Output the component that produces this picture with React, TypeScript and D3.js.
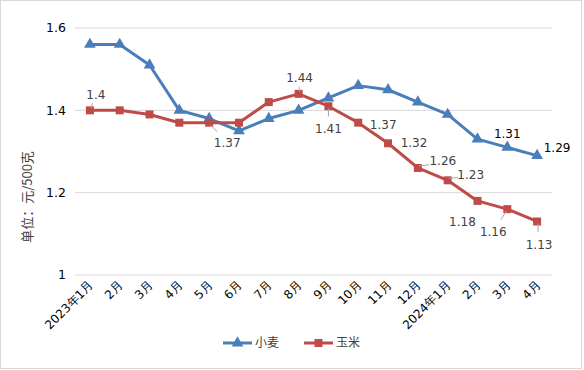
import * as d3 from 'd3';

const months = ['2023年1月', '2月', '3月', '4月', '5月', '6月', '7月', '8月', '9月', '10月', '11月', '12月', '2024年1月', '2月', '3月', '4月'];
const wheat = [1.56, 1.56, 1.51, 1.4, 1.38, 1.35, 1.38, 1.4, 1.43, 1.46, 1.45, 1.42, 1.39, 1.33, 1.31, 1.29];
const corn = [1.4, 1.4, 1.39, 1.37, 1.37, 1.37, 1.42, 1.44, 1.41, 1.37, 1.32, 1.26, 1.23, 1.18, 1.16, 1.13];
const yTicks = [1, 1.2, 1.4, 1.6];

// which points carry a value label, and where it sits (dx, dy from the point)
const cornLabels = [
  { i: 0, dx: 6, dy: -16, lead: true },
  { i: 4, dx: 18, dy: 20, lead: true },
  { i: 7, dx: 1, dy: -16, lead: true },
  { i: 8, dx: 0, dy: 23, lead: true },
  { i: 9, dx: 25, dy: 2, lead: false },
  { i: 10, dx: 26, dy: 0, lead: false },
  { i: 11, dx: 25, dy: -7, lead: true },
  { i: 12, dx: 23, dy: -6, lead: true },
  { i: 13, dx: -15, dy: 21, lead: false },
  { i: 14, dx: -14, dy: 23, lead: true },
  { i: 15, dx: 2, dy: 23, lead: true },
];
const wheatLabels = [
  { i: 14, dx: 0, dy: -14 },
  { i: 15, dx: 20, dy: -8 },
];

const W = 584;
const H = 370;
const blue = '#4a7ebb';
const red = '#be4b48';
const font = '"DejaVu Sans", sans-serif';
const cjk = '"Noto Sans CJK SC", sans-serif';

export default function App() {
  const x = d3.scaleBand<string>().domain(months.map((m, i) => i + '')).range([75, 552]);
  const y = d3.scaleLinear().domain([1, 1.6]).range([275, 28]);
  const cx = (i: number) => (x(i + '') as number) + x.bandwidth() / 2;
  const line = d3.line<number>().x((_, i) => cx(i)).y((d) => y(d));
  const tri = d3.symbol().type(d3.symbolTriangle).size(60)();
  const sq = d3.symbol().type(d3.symbolSquare).size(64)();

  return (
    <div style={{ position: 'absolute', left: 0, top: 0 }}>
      <svg width={W} height={H} style={{ display: 'block', fontFamily: font }}>
        <rect x={0} y={0} width={W} height={H} fill="#fff" />
        <rect x={0.5} y={0.5} width={581} height={368} fill="none" stroke="#d9d9d9" />
        {yTicks.map((t) => (
          <g key={t}>
            <line x1={75} x2={552} y1={y(t)} y2={y(t)} stroke="#d9d9d9" />
            <text x={66} y={y(t)} dy="0.35em" textAnchor="end" fontSize={12.5} fill="#000">
              {t === 1 ? '1' : t.toFixed(1)}
            </text>
          </g>
        ))}
        <text
          transform={`translate(27,197) rotate(-90)`}
          textAnchor="middle"
          dy="0.35em"
          fontSize={13}
          fill="#404040"
          fontFamily={cjk}
        >
          单位：元/500克
        </text>
        {months.map((m, i) => (
          <text
            key={i}
            transform={`translate(${cx(i) + 4},${286}) rotate(-45)`}
            textAnchor="end"
            fontSize={12}
            fill="#000"
          >
            {m}
          </text>
        ))}
        <path d={line(wheat) as string} fill="none" stroke={blue} strokeWidth={3} strokeLinejoin="round" />
        <path d={line(corn) as string} fill="none" stroke={red} strokeWidth={3} strokeLinejoin="round" />
        {wheat.map((v, i) => (
          <path key={'w' + i} d={tri as string} transform={`translate(${cx(i)},${y(v)})`} fill={blue} />
        ))}
        {corn.map((v, i) => (
          <path key={'c' + i} d={sq as string} transform={`translate(${cx(i)},${y(v)})`} fill={red} />
        ))}
        {cornLabels.map((l) => {
          const px = cx(l.i);
          const py = y(corn[l.i]);
          const tx = px + l.dx;
          const ty = py + l.dy;
          return (
            <g key={'cl' + l.i}>
              {l.lead && (
                <line
                  x1={px + Math.sign(l.dx) * 1}
                  y1={py + Math.sign(l.dy) * 2}
                  x2={px + l.dx * 0.45}
                  y2={py + l.dy * 0.45}
                  stroke="#a6a6a6"
                  strokeWidth={1}
                />
              )}
              <text x={tx} y={ty} dy="0.35em" textAnchor="middle" fontSize={12} fill="#404040">
                {corn[l.i]}
              </text>
            </g>
          );
        })}
        {wheatLabels.map((l) => (
          <text
            key={'wl' + l.i}
            x={cx(l.i) + l.dx}
            y={y(wheat[l.i]) + l.dy}
            dy="0.35em"
            textAnchor="middle"
            fontSize={12}
            fill="#000"
          >
            {wheat[l.i]}
          </text>
        ))}
        <g transform="translate(223,343)">
          <line x1={0} x2={29} y1={0} y2={0} stroke={blue} strokeWidth={3} />
          <path d={tri as string} transform="translate(14.5,0)" fill={blue} />
          <text x={32} y={0} dy="0.35em" fontSize={12} fill="#404040" fontFamily={cjk}>
            小麦
          </text>
        </g>
        <g transform="translate(304,343)">
          <line x1={0} x2={29} y1={0} y2={0} stroke={red} strokeWidth={3} />
          <path d={sq as string} transform="translate(14.5,0)" fill={red} />
          <text x={32} y={0} dy="0.35em" fontSize={12} fill="#404040" fontFamily={cjk}>
            玉米
          </text>
        </g>
      </svg>
    </div>
  );
}
